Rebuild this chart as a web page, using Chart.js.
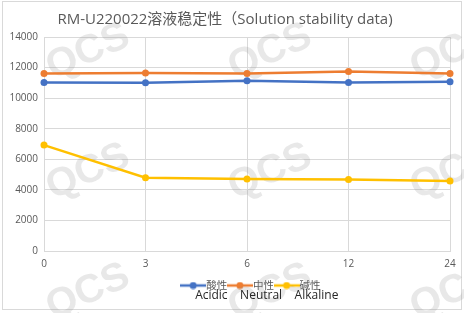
<!DOCTYPE html>
<html>
<head>
<meta charset="utf-8">
<script src="https://cdn.jsdelivr.net/npm/chart.js@4"></script>
<style>
  html, body { margin: 0; padding: 0; background: #fff; }
  #wrap { width: 464px; height: 313px; }
</style>
</head>
<body>
<div id="wrap"><canvas id="chart"></canvas></div>
<script>
// data
const hours = ['0', '3', '6', '12', '24'];
const acidic = [11030, 11010, 11140, 11030, 11070];
const neutral = [11620, 11650, 11620, 11750, 11620];
const alkaline = [6930, 4800, 4710, 4670, 4580];
const seriesNames = ['酸性', '中性', '碱性'];
const seriesNamesEn = ['Acidic', 'Neutral', 'Alkaline'];
const colors = ['#4472C4', '#ED7D31', '#FFC000'];
const yTicks = [0, 2000, 4000, 6000, 8000, 10000, 12000, 14000];

const watermarkX = [88, 270, 452];
const watermarkY = [52, 172, 292];

const latin = '"Open Sans", "Noto Sans CJK SC", sans-serif';
const cjk = '"Noto Sans CJK SC", sans-serif';

// legend symbol: short line with a dot, like the Excel one
function legendSymbol(color) {
    const c = document.createElement('canvas');
    c.width = 26;
    c.height = 8;
    const g = c.getContext('2d');
    g.strokeStyle = color;
    g.lineWidth = 2.5;
    g.beginPath();
    g.moveTo(0, 4);
    g.lineTo(26, 4);
    g.stroke();
    g.fillStyle = color;
    g.beginPath();
    g.arc(13, 4, 3.5, 0, Math.PI * 2);
    g.fill();
    return c;
}
const symbols = colors.map(legendSymbol);

const frame = {
    id: 'frame',
    beforeDraw(chart) {
        const ctx = chart.ctx;
        ctx.save();
        ctx.fillStyle = '#fff';
        ctx.fillRect(0, 0, chart.width, chart.height);
        ctx.strokeStyle = '#d9d9d9';
        ctx.lineWidth = 1;
        ctx.strokeRect(2.5, 1.5, chart.width - 5, chart.height - 5);
        ctx.restore();
    },
    afterLayout(chart) {
        // nudge the legend row to the right, where Excel puts it
        chart.legend.left += 28;
        chart.legend.right += 28;
    }
};

const watermark = {
    id: 'watermark',
    beforeDatasetsDraw(chart) {
        const ctx = chart.ctx;
        ctx.save();
        ctx.fillStyle = 'rgba(150,150,150,0.22)';
        ctx.font = 'bold 40px "Liberation Sans", sans-serif';
        ctx.textAlign = 'center';
        ctx.textBaseline = 'middle';
        watermarkY.forEach(y => {
            watermarkX.forEach(x => {
                ctx.save();
                ctx.translate(x, y);
                ctx.rotate(-24 * Math.PI / 180);
                ctx.fillText('QCS', 0, 0);
                ctx.restore();
            });
        });
        ctx.restore();
    }
};

// english second line under the legend row
const legendEnglish = {
    id: 'legendEnglish',
    afterDraw(chart) {
        const boxes = chart.legend.legendHitBoxes;
        if (!boxes.length) return;
        const ctx = chart.ctx;
        ctx.save();
        ctx.font = '12px ' + latin;
        ctx.fillStyle = '#262626';
        ctx.textAlign = 'left';
        ctx.textBaseline = 'middle';
        let x = boxes[0].left + 9.75;
        const y = boxes[0].top + boxes[0].height / 2 + 10.5;
        seriesNamesEn.forEach(t => {
            ctx.fillText(t, x, y);
            x += ctx.measureText(t).width + 12.5;
        });
        ctx.restore();
    }
};

const values = [acidic, neutral, alkaline];

new Chart(document.getElementById('chart'), {
    type: 'line',
    data: {
        labels: hours,
        datasets: values.map((v, i) => ({
            label: seriesNames[i],
            data: v,
            borderColor: colors[i],
            backgroundColor: colors[i],
            borderWidth: 2.5,
            pointRadius: 3.5,
            pointBorderWidth: 0,
            pointBackgroundColor: colors[i],
            tension: 0
        }))
    },
    options: {
        responsive: true,
        maintainAspectRatio: false,
        animation: false,
        layout: {
            padding: { top: 0, left: 0, right: 14, bottom: 12.25 }
        },
        scales: {
            x: {
                grid: { color: '#d9d9d9', drawTicks: false },
                border: { color: '#d9d9d9' },
                ticks: {
                    color: '#595959',
                    font: { size: 10, family: latin },
                    padding: 7,
                    maxRotation: 0
                },
                afterFit(scale) {
                    scale.height = 24.25;
                }
            },
            y: {
                min: 0,
                max: 14000,
                grid: { color: '#d9d9d9', drawTicks: false },
                border: { display: false },
                afterBuildTicks(scale) {
                    scale.ticks = yTicks.map(v => ({ value: v }));
                },
                ticks: {
                    color: '#595959',
                    font: { size: 10, family: latin },
                    padding: 6,
                    callback: v => String(v)
                },
                afterFit(scale) {
                    scale.width = 44;
                }
            }
        },
        plugins: {
            title: {
                display: true,
                text: 'RM-U220022溶液稳定性（Solution stability data)',
                color: '#595959',
                font: { size: 15, weight: 'normal', family: latin },
                padding: { top: 11, bottom: 8 }
            },
            legend: {
                position: 'bottom',
                labels: {
                    usePointStyle: true,
                    pointStyleWidth: 15.5,
                    padding: 5,
                    color: '#595959',
                    font: { size: 10.5, family: cjk },
                    generateLabels(chart) {
                        return chart.data.datasets.map((ds, i) => ({
                            text: ds.label,
                            fillStyle: colors[i],
                            strokeStyle: colors[i],
                            fontColor: '#595959',
                            pointStyle: symbols[i],
                            lineWidth: 0,
                            hidden: false,
                            datasetIndex: i
                        }));
                    }
                }
            },
            tooltip: { enabled: false }
        }
    },
    plugins: [frame, watermark, legendEnglish]
});
</script>
</body>
</html>
